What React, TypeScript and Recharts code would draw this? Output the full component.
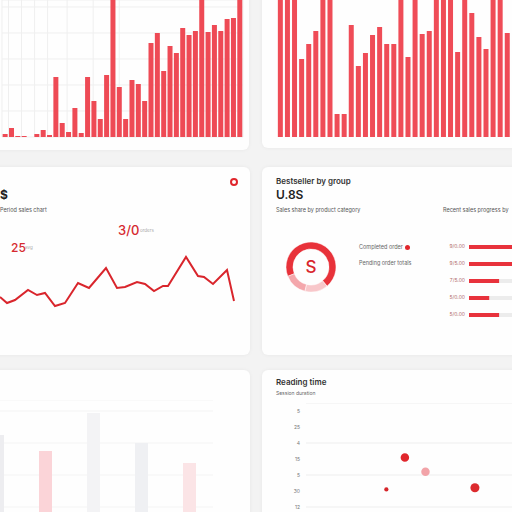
import React from "react";
import {
  BarChart,
  Bar,
  LineChart,
  Line,
  PieChart,
  Pie,
  Cell,
  ScatterChart,
  Scatter,
  XAxis,
  YAxis,
  ZAxis,
  CartesianGrid,
} from "recharts";

// top-left bars (daily volume), values over 137 run off the top
const leftVolume = [
  3, 9, 1, 1, 0, 3, 7, 2, 60, 14, 5, 29, 4, 60, 36, 18, 62, 140, 50, 18, 57,
  53, 36, 94, 104, 66, 91, 84, 109, 102, 106, 140, 105, 112, 106, 118, 119, 140,
];
// top-right bars
const rightVolume = [
  140, 140, 140, 78, 93, 106, 140, 140, 23, 23, 112, 71, 84, 102, 110, 93, 93,
  140, 80, 140, 103, 106, 140, 140, 140, 85, 140, 124, 100, 88, 140, 140, 104,
];

// revenue line
const lineT = [
  0, 7, 15, 28, 37, 45, 55, 65, 78, 89, 106, 117, 125, 137, 145, 154, 163, 168,
  186, 198, 204, 213, 227, 234,
];
const lineValue = [
  13, 7, 10, 20, 15, 17, 4, 7, 27, 22, 42, 22, 23, 28, 26, 19, 24, 24, 53, 34,
  33, 26, 40, 9,
];

// donut
const donutNames = ["Completed", "Pending", "Other"];
const donutValues = [70, 15, 15];
const donutColors = ["#e8323a", "#f4a7ac", "#f8c7ca"];

// progress rows
const rowLabels = ["9/0.00", "9/5.00", "7/5.00", "5/0.00", "5/0.00"];
const rowValues = [100, 100, 70, 47, 70];

// faded bars bottom-left
const fadeCats = ["A", "B", "C", "D", "E"];
const fadeValues = [85, 69, 107, 77, 57];
const fadeColors = ["#ededf0", "#fbd4d8", "#f3f3f5", "#eff0f3", "#fbe4e6"];

// scatter bottom-right
const tickLabels = ["5", "25", "4", "15", "5", "30", "12"];
const dotX = [48, 58, 39, 82];
const dotRow = [2.9, 3.8, 4.9, 4.8];
const dotSize = [8, 8, 2, 9];
const dotColors = ["#e0262c", "#f2a3a8", "#d6262b", "#dc2a2e"];

const leftData = leftVolume.map((v, i) => ({ day: i + 1, v }));
const rightData = rightVolume.map((v, i) => ({ day: i + 1, v }));
const lineData = lineT.map((t, i) => ({ t, v: lineValue[i] }));
const donutData = donutNames.map((name, i) => ({ name, value: donutValues[i] }));
const rowData = rowLabels.map((label, i) => ({ label, value: rowValues[i] }));
const fadeData = fadeCats.map((c, i) => ({ c, v: fadeValues[i] }));
const dotData = dotX.map((x, i) => ({ x, row: dotRow[i], z: dotSize[i] }));

const gridTicks = Array.from({ length: 19 }, (_, i) => i);
const hTicks = [0, 13, 26, 39, 52, 65, 78, 91, 104, 117, 130];

const abs = (left: number, top: number): React.CSSProperties => ({
  position: "absolute",
  left,
  top,
});

function Panel({ x, y, w, h }: { x: number; y: number; w: number; h: number }) {
  return (
    <div
      style={{
        ...abs(x, y),
        width: w,
        height: h,
        background: "#fefefe",
        borderRadius: 6,
        boxShadow: "0 0 4px rgba(0,0,0,0.05)",
      }}
    />
  );
}

function Txt({
  x,
  y,
  size,
  color,
  weight,
  children,
}: {
  x: number;
  y: number;
  size: number;
  color: string;
  weight?: number;
  children: React.ReactNode;
}) {
  return (
    <div
      style={{
        ...abs(x, y),
        fontSize: size,
        color,
        fontWeight: weight || 400,
        whiteSpace: "nowrap",
        lineHeight: 1,
      }}
    >
      {children}
    </div>
  );
}

export default function App() {
  return (
    <div
      style={{
        position: "fixed",
        left: 0,
        top: 0,
        width: 512,
        height: 512,
        overflow: "hidden",
        background: "#f3f3f3",
        fontFamily: "Inter, 'Noto Sans', sans-serif",
      }}
    >
      <Panel x={-10} y={-10} w={259} h={160} />
      <Panel x={262} y={-10} w={260} h={158} />
      <Panel x={-10} y={167} w={260} h={188} />
      <Panel x={262} y={167} w={260} h={188} />
      <Panel x={-10} y={370} w={260} h={150} />
      <Panel x={262} y={370} w={260} h={150} />

      {/* top-left */}
      <div style={abs(0, 0)}>
        <BarChart
          width={248}
          height={150}
          data={leftData}
          margin={{ top: 0, right: 5, left: 2, bottom: 13 }}
          barCategoryGap="10%"
        >
          <CartesianGrid stroke="#efefef" xAxisId="g" />
          <XAxis dataKey="day" hide />
          <XAxis xAxisId="g" type="number" domain={[0, 18]} ticks={gridTicks} hide />
          <YAxis hide domain={[0, 137]} ticks={hTicks} allowDataOverflow />
          <Bar dataKey="v" fill="#ee4a55" isAnimationActive={false} />
        </BarChart>
      </div>

      {/* top-right */}
      <div style={abs(262, 0)}>
        <BarChart
          width={250}
          height={150}
          data={rightData}
          margin={{ top: 0, right: 1, left: 15, bottom: 13 }}
          barCategoryGap="12%"
        >
          <XAxis dataKey="day" hide />
          <YAxis hide domain={[0, 137]} allowDataOverflow />
          <Bar dataKey="v" fill="#ef4c57" isAnimationActive={false} />
        </BarChart>
      </div>

      {/* middle-left */}
      <Txt x={0} y={189} size={12} color="#222" weight={700}>$</Txt>
      <Txt x={0} y={208} size={5.5} color="#555">Period sales chart</Txt>
      <Txt x={118} y={224} size={13} color="#d62a30" weight={500}>3/0</Txt>
      <Txt x={140} y={229} size={4.5} color="#aaa">orders</Txt>
      <Txt x={11} y={242} size={12} color="#d62a30" weight={500}>25</Txt>
      <Txt x={25} y={246} size={4.5} color="#aaa">avg</Txt>
      <div
        style={{
          ...abs(230, 178),
          width: 4,
          height: 4,
          borderRadius: "50%",
          border: "2px solid #e0262c",
        }}
      />
      <div style={abs(0, 240)}>
        <LineChart width={250} height={70} data={lineData} margin={{ top: 0, right: 0, left: 0, bottom: 0 }}>
          <XAxis dataKey="t" type="number" domain={[0, 250]} hide />
          <YAxis hide domain={[0, 70]} />
          <Line
            type="linear"
            dataKey="v"
            stroke="#d9252c"
            strokeWidth={2}
            dot={false}
            isAnimationActive={false}
          />
        </LineChart>
      </div>

      {/* middle-right */}
      <Txt x={276} y={177} size={8} color="#333" weight={600}>Bestseller by group</Txt>
      <Txt x={276} y={189} size={12} color="#222" weight={600}>U.8S</Txt>
      <Txt x={276} y={208} size={5.5} color="#555">Sales share by product category</Txt>
      <Txt x={443} y={208} size={5.5} color="#555">Recent sales progress by</Txt>
      <div style={abs(281, 237)}>
        <PieChart width={60} height={60} margin={{ top: 0, right: 0, left: 0, bottom: 0 }}>
          <Pie
            data={donutData}
            dataKey="value"
            cx={30}
            cy={30}
            innerRadius={18}
            outerRadius={25}
            startAngle={-50}
            endAngle={310}
            stroke="#fff"
            strokeWidth={0.5}
            isAnimationActive={false}
          >
            {donutData.map((d, i) => (
              <Cell key={d.name} fill={donutColors[i]} />
            ))}
          </Pie>
        </PieChart>
      </div>
      <div
        style={{
          ...abs(295, 255),
          width: 32,
          textAlign: "center",
          fontSize: 17,
          color: "#d9252c",
          fontWeight: 500,
          lineHeight: "24px",
        }}
      >
        S
      </div>
      <Txt x={359} y={245} size={5.5} color="#666">Completed order</Txt>
      <div style={{ ...abs(405, 245), width: 5, height: 5, borderRadius: "50%", background: "#e0262c" }} />
      <Txt x={359} y={261} size={5.5} color="#666">Pending order totals</Txt>
      <div style={abs(440, 238)}>
        <BarChart
          layout="vertical"
          width={72}
          height={85}
          data={rowData}
          margin={{ top: 0, right: 0, left: 0, bottom: 0 }}
        >
          <XAxis type="number" domain={[0, 100]} hide />
          <YAxis
            type="category"
            dataKey="label"
            width={29}
            axisLine={false}
            tickLine={false}
            tickSize={2}
            tickMargin={2}
            tick={{ fontSize: 5, fill: "#b06a6a" }}
          />
          <Bar
            dataKey="value"
            fill="#e8323c"
            barSize={4}
            background={{ fill: "#ececec" }}
            isAnimationActive={false}
          />
        </BarChart>
      </div>

      {/* bottom-left */}
      <div style={abs(-27, 400)}>
        <BarChart width={240} height={120} data={fadeData} margin={{ top: 0, right: 0, left: 0, bottom: 0 }}>
          <CartesianGrid stroke="#f4f4f4" vertical={false} />
          <XAxis dataKey="c" hide />
          <YAxis hide domain={[0, 120]} ticks={[13, 29, 45, 61, 77, 93, 109]} />
          <Bar dataKey="v" barSize={13} isAnimationActive={false}>
            {fadeData.map((d, i) => (
              <Cell key={d.c} fill={fadeColors[i]} />
            ))}
          </Bar>
        </BarChart>
      </div>

      {/* bottom-right */}
      <Txt x={276} y={378} size={8} color="#333" weight={600}>Reading time</Txt>
      <Txt x={276} y={391} size={5} color="#666">Session duration</Txt>
      <div style={abs(280, 403)}>
        <ScatterChart width={232} height={112} margin={{ top: 0, right: 0, left: 0, bottom: 0 }}>
          <CartesianGrid stroke="#eeeeee" vertical={false} />
          <XAxis dataKey="x" type="number" domain={[0, 100]} hide />
          <YAxis
            dataKey="row"
            type="number"
            domain={[-0.5, 6.5]}
            reversed
            ticks={[0, 1, 2, 3, 4, 5, 6]}
            tickFormatter={(i: number) => tickLabels[i]}
            width={26}
            axisLine={false}
            tickLine={false}
            tickSize={0}
            tickMargin={6}
            tick={{ fontSize: 5, fill: "#777" }}
          />
          <ZAxis dataKey="z" type="number" domain={[0, 9]} range={[0, 64]} />
          <Scatter data={dotData} isAnimationActive={false}>
            {dotData.map((d, i) => (
              <Cell key={i} fill={dotColors[i]} />
            ))}
          </Scatter>
        </ScatterChart>
      </div>
    </div>
  );
}
